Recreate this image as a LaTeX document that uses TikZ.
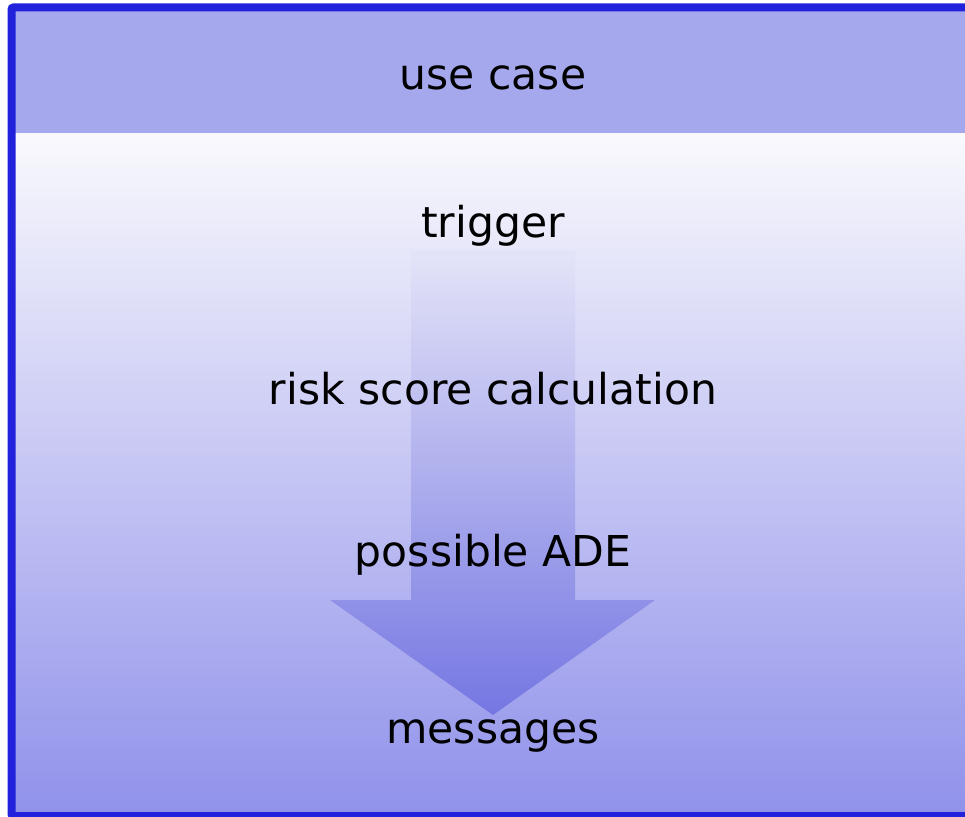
\documentclass[tikz,border=0pt]{standalone}
\usepackage{fontspec}
\setmainfont{DejaVu Sans}
\begin{document}
\begin{tikzpicture}[x=1pt,y=-1pt,
  lbl/.style={font=\fontsize{42.5}{50}\selectfont, text=black, inner sep=0pt, anchor=base}]
\definecolor{frameblue}{HTML}{2222DD}
\definecolor{headfill}{HTML}{A6A8EE}
\definecolor{bodytop}{HTML}{F9F9FD}
\definecolor{bodymid}{HTML}{D4D4F5}
\definecolor{bodybot}{HTML}{9091EA}
\definecolor{arrtop}{HTML}{E4E4F8}
\definecolor{arrbot}{HTML}{7576E2}
\useasboundingbox (0,0) rectangle (965,816);
\clip (0,0) rectangle (965,816);
% body gradient
\shade[top color=bodytop, middle color=bodymid, bottom color=bodybot] (11,133) rectangle (975,815);
% header
\fill[headfill] (11,7) rectangle (975,133);
% arrow
\shade[top color=arrtop, bottom color=arrbot]
  (411,250) -- (575,250) -- (575,600) -- (655,600) -- (493,715) -- (330,600) -- (411,600) -- cycle;
% frame
\draw[frameblue, line width=8pt, rounded corners=2pt] (11.5,7.5) rectangle (975,816);
% labels
\node[lbl] (uc) at (493,89) {use case};
\node[lbl] (tr) at (493,237) {trigger};
\node[lbl] (rs) at (493,404) {risk score calculation};
\node[lbl] (ade) at (493,566) {possible ADE};
\node[lbl] (msg) at (493,743) {messages};
\end{tikzpicture}
\end{document}
